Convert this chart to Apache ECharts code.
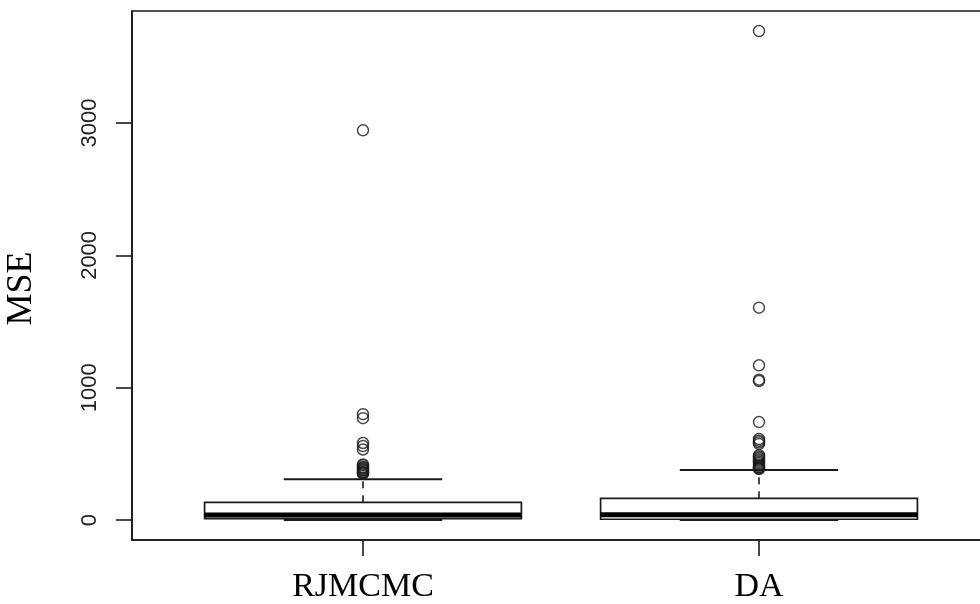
<!DOCTYPE html>
<html>
<head>
<meta charset="utf-8">
<script src="https://cdn.jsdelivr.net/npm/echarts@6/dist/echarts.min.js"></script>
<style>
html,body{margin:0;padding:0;background:#fff;}
#chart{width:980px;height:604px;}
</style>
</head>
<body>
<div id="chart"></div>
<script>
// ---- data ----
var categories = ['RJMCMC', 'DA'];
// [lower whisker, Q1, median, Q3, upper whisker]
var rjmcmcStats = [0, 10, 38, 134, 308];
var daStats = [0, 6, 39, 164, 378];
var rjmcmcOutliers = [2945, 800, 770, 582, 559, 533, 420, 413, 400, 395, 388, 380, 375, 365, 360, 355, 350];
var daOutliers = [3695, 1605, 1169, 1060, 1050, 740, 612, 600, 588, 575, 490, 480, 470, 460, 450, 440, 430, 420, 410, 400, 395, 390, 385];
var yTicks = [0, 1000, 2000, 3000];

var statsList = [rjmcmcStats, daStats];
var outlierList = [rjmcmcOutliers, daOutliers];

var boxData = statsList.map(function (s, i) { return [i + 1].concat(s); });
var outlierData = [];
outlierList.forEach(function (arr, i) {
  arr.forEach(function (v) { outlierData.push([i + 1, v]); });
});
var xTicks = categories.map(function (c, i) { return i + 1; });

var LINE = '#1a1a1a';
var HALF = 0.4, CAP = 0.2;

var chart = echarts.init(document.getElementById('chart'), null, {renderer: 'canvas'});
chart.setOption({
  animation: false,
  backgroundColor: '#fff',
  grid: {
    left: 132, top: 11, width: 858, height: 529,
    containLabel: false, outerBoundsMode: 'none',
    show: true, borderColor: LINE, borderWidth: 1.6, backgroundColor: 'transparent'
  },
  xAxis: {
    type: 'value', min: 0.4167, max: 2.5833,
    splitLine: {show: false},
    axisLine: {show: true, onZero: false, lineStyle: {color: LINE, width: 1.6}},
    axisTick: {show: true, customValues: xTicks, length: 16, inside: false, lineStyle: {color: LINE, width: 1.6}},
    axisLabel: {
      show: true, customValues: xTicks, margin: 30,
      formatter: function (v) { return categories[Math.round(v) - 1] || ''; },
      fontFamily: 'Liberation Serif', fontSize: 34, color: '#000'
    }
  },
  yAxis: {
    type: 'value', min: -151, max: 3847,
    name: 'MSE', nameLocation: 'middle', nameRotate: 90, nameGap: 92,
    nameTextStyle: {fontFamily: 'Liberation Serif', fontSize: 36, color: '#000', padding: [0, 26, 0, 0]},
    splitLine: {show: false},
    axisLine: {show: true, onZero: false, lineStyle: {color: LINE, width: 1.6}},
    axisTick: {show: true, customValues: yTicks, length: 16, inside: false, lineStyle: {color: LINE, width: 1.6}},
    axisLabel: {
      show: true, customValues: yTicks, rotate: 90, margin: 31,
      formatter: function (v) { return String(v); },
      fontFamily: 'Liberation Sans', fontSize: 22, color: '#222'
    }
  },
  series: [
    {
      type: 'custom',
      data: boxData,
      encode: {x: 0, y: [1, 2, 3, 4, 5]},
      renderItem: function (params, api) {
        var x = api.value(0);
        var mn = api.value(1), q1 = api.value(2), md = api.value(3), q3 = api.value(4), mx = api.value(5);
        var bl = api.coord([x - HALF, q3]);
        var br = api.coord([x + HALF, q1]);
        var mL = api.coord([x - HALF, md]);
        var mR = api.coord([x + HALF, md]);
        var wTop = api.coord([x, mx]);
        var wQ3 = api.coord([x, q3]);
        var wBot = api.coord([x, mn]);
        var wQ1 = api.coord([x, q1]);
        var cTL = api.coord([x - CAP, mx]);
        var cTR = api.coord([x + CAP, mx]);
        var cBL = api.coord([x - CAP, mn]);
        var cBR = api.coord([x + CAP, mn]);
        return {
          type: 'group',
          children: [
            {type: 'line', shape: {x1: wQ3[0], y1: wQ3[1], x2: wTop[0], y2: wTop[1]}, style: {stroke: LINE, lineWidth: 1.6, lineDash: [7, 7]}},
            {type: 'line', shape: {x1: wQ1[0], y1: wQ1[1], x2: wBot[0], y2: wBot[1]}, style: {stroke: LINE, lineWidth: 1.6, lineDash: [7, 7]}},
            {type: 'line', shape: {x1: cTL[0], y1: cTL[1], x2: cTR[0], y2: cTR[1]}, style: {stroke: LINE, lineWidth: 1.8}},
            {type: 'line', shape: {x1: cBL[0], y1: cBL[1], x2: cBR[0], y2: cBR[1]}, style: {stroke: LINE, lineWidth: 1.8}},
            {type: 'rect', shape: {x: bl[0], y: bl[1], width: br[0] - bl[0], height: br[1] - bl[1]}, style: {fill: '#fff', stroke: LINE, lineWidth: 1.7}},
            {type: 'line', shape: {x1: mL[0], y1: mL[1], x2: mR[0], y2: mR[1]}, style: {stroke: '#000', lineWidth: 5}}
          ]
        };
      },
      z: 2
    },
    {
      type: 'scatter',
      data: outlierData,
      symbol: 'circle',
      symbolSize: 11,
      itemStyle: {color: 'rgba(0,0,0,0)', borderColor: LINE, borderWidth: 1.5},
      z: 3
    }
  ]
});
</script>
</body>
</html>
